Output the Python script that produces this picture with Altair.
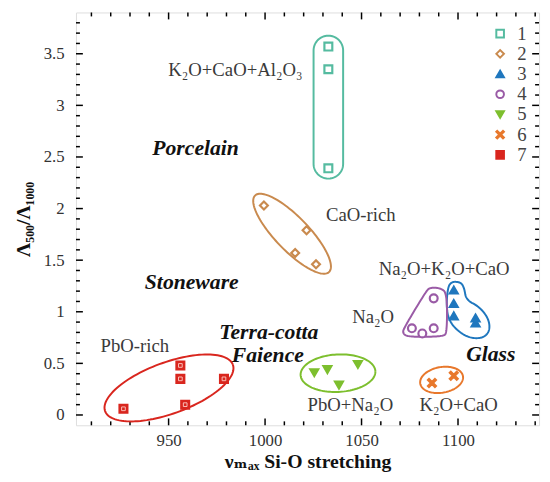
import altair as alt
import pandas as pd
import numpy as np

# ---------------- data ----------------
X_DOMAIN = [902, 1142]
Y_DOMAIN = [-0.1, 3.9]
W, H = 470, 419

series = ["1", "2", "3", "4", "5", "6", "7"]
colors = ["#55bba0", "#c98a4e", "#1f77be", "#9a5ba6", "#7dbf2e", "#e8782c", "#d9261e"]

s1_x = [1032.8, 1032.8, 1032.8]
s1_y = [3.57, 3.35, 2.39]
s2_x = [999.4, 1021.5, 1015.6, 1026.4]
s2_y = [2.03, 1.79, 1.57, 1.46]
s3_x = [1097.8, 1097.8, 1097.8, 1109.1, 1109.1]
s3_y = [1.21, 1.08, 0.96, 0.94, 0.89]
s4_x = [1076.1, 1081.5, 1087.4, 1087.4]
s4_y = [0.84, 0.79, 0.84, 1.13]
s5_x = [1025.5, 1032.3, 1038.3, 1048.1]
s5_y = [0.41, 0.44, 0.29, 0.49]
s6_x = [1086.5, 1097.8]
s6_y = [0.31, 0.38]
s7_x = [926.6, 956.1, 956.1, 958.6, 978.7]
s7_y = [0.06, 0.48, 0.35, 0.10, 0.35]

xs_all = [s1_x, s2_x, s3_x, s4_x, s5_x, s6_x, s7_x]
ys_all = [s1_y, s2_y, s3_y, s4_y, s5_y, s6_y, s7_y]

# tick values
x_major = [950, 1000, 1050, 1100]
x_minor = [910, 920, 930, 940, 960, 970, 980, 990, 1010, 1020, 1030, 1040,
           1060, 1070, 1080, 1090, 1110, 1120, 1130, 1140]
y_major = [0, 0.5, 1, 1.5, 2, 2.5, 3, 3.5]
y_minor = [0.1, 0.2, 0.3, 0.4, 0.6, 0.7, 0.8, 0.9, 1.1, 1.2, 1.3, 1.4, 1.6, 1.7,
           1.8, 1.9, 2.1, 2.2, 2.3, 2.4, 2.6, 2.7, 2.8, 2.9, 3.1, 3.2, 3.3, 3.4,
           3.6, 3.7, 3.8]

# annotations
norm_labels = ["K₂O+CaO+Al₂O₃", "CaO-rich", "Na₂O+K₂O+CaO", "Na₂O", "PbO-rich",
               "PbO+Na₂O", "K₂O+CaO"]
norm_x = [984.6, 1049.6, 1092.8, 1056.0, 932.5, 1044.2, 1100.3]
norm_y = [3.34, 1.94, 1.41, 0.95, 0.67, 0.095, 0.095]
bold_labels = ["Porcelain", "Stoneware", "Terra-cotta", "Faience", "Glass"]
bold_x = [964.0, 962.0, 1001.9, 1001.4, 1117.0]
bold_y = [2.59, 1.29, 0.80, 0.585, 0.59]

# group outlines (ellipses: centre x, centre y, semi-axes in px, angle deg)
teal_stadium = dict(cx=1032.8, ytop=3.675, ybot=2.29, r=15)
brown_ell = dict(cx=1014.0, cy=1.756, a=54, b=17, ang=-46)
green_ell = dict(cx=1037.8, cy=0.405, a=38, b=19, ang=3)
orange_ell = dict(cx=1091.5, cy=0.34, a=22, b=13, ang=10)
red_ell = dict(cx=950.2, cy=0.262, a=69, b=26, ang=20)
purple_px = [1085.5, 1090.9, 1094.3, 1094.3, 1092.4, 1074.6, 1071.2, 1072.2, 1083.5]
purple_py = [1.235, 1.23, 1.18, 0.80, 0.76, 0.755, 0.79, 0.85, 1.20]
blue_px = [1095.8, 1101.2, 1103.2, 1104.2, 1111.0, 1116.0, 1116.5, 1112.5, 1104.7,
           1096.8, 1094.1, 1094.3]
blue_py = [1.29, 1.29, 1.235, 1.115, 1.05, 0.93, 0.81, 0.74, 0.75, 0.865, 1.00, 1.18]

# ---------------- helpers ----------------
PX_X = W / (X_DOMAIN[1] - X_DOMAIN[0])
PX_Y = H / (Y_DOMAIN[1] - Y_DOMAIN[0])


def ellipse(e, n=120):
    t = np.linspace(0, 2 * np.pi, n)
    th = np.radians(e["ang"])
    dx = e["a"] * np.cos(t) * np.cos(th) - e["b"] * np.sin(t) * np.sin(th)
    dy = e["a"] * np.cos(t) * np.sin(th) + e["b"] * np.sin(t) * np.cos(th)
    return e["cx"] + dx / PX_X, e["cy"] + dy / PX_Y


def stadium(s, n=40):
    r = s["r"]
    top_c = s["ytop"] - r / PX_Y
    bot_c = s["ybot"] + r / PX_Y
    t1 = np.linspace(0, np.pi, n)
    t2 = np.linspace(np.pi, 2 * np.pi, n)
    x = np.concatenate([s["cx"] + r * np.cos(t1) / PX_X, s["cx"] + r * np.cos(t2) / PX_X])
    y = np.concatenate([top_c + r * np.sin(t1) / PX_Y, bot_c + r * np.sin(t2) / PX_Y])
    x = np.append(x, x[0])
    y = np.append(y, y[0])
    return x, y


def chaikin(xs, ys, it=4):
    p = np.column_stack([xs, ys]).astype(float)
    for _ in range(it):
        q = np.roll(p, -1, axis=0)
        a = 0.75 * p + 0.25 * q
        b = 0.25 * p + 0.75 * q
        p = np.empty((2 * len(a), 2))
        p[0::2] = a
        p[1::2] = b
    p = np.vstack([p, p[:1]])
    return p[:, 0], p[:, 1]


outlines = [
    (stadium(teal_stadium), colors[0]),
    (ellipse(brown_ell), colors[1]),
    (chaikin(blue_px, blue_py), colors[2]),
    (chaikin(purple_px, purple_py), colors[3]),
    (ellipse(green_ell), colors[4]),
    (ellipse(orange_ell), colors[5]),
    (ellipse(red_ell), colors[6]),
]

xsc = alt.Scale(domain=X_DOMAIN, nice=False, zero=False)
ysc = alt.Scale(domain=Y_DOMAIN, nice=False, zero=False)

SERIF = "'Liberation Serif', 'Times New Roman', Times, 'DejaVu Serif', serif"

# ---------------- points ----------------
rows = []
for s, xs, ys in zip(series, xs_all, ys_all):
    for x, y in zip(xs, ys):
        rows.append({"x": x, "y": y, "s": s})
pts = pd.DataFrame(rows)

X_PATH = "M-0.75,-1L0,-0.25L0.75,-1L1,-0.75L0.25,0L1,0.75L0.75,1L0,0.25L-0.75,1L-1,0.75L-0.25,0L-1,-0.75Z"
shapes = ["square", "diamond", "triangle-up", "circle", "triangle-down", X_PATH, "square"]
fills = ["white", "white", colors[2], "white", colors[4], colors[5], colors[6]]

leg = alt.Legend(orient="none", legendX=421, legendY=12, title=None, padding=0,
                 labelFont=SERIF, labelFontSize=19, labelColor="#444",
                 symbolStrokeWidth=2, symbolSize=60, rowPadding=0.5, labelOffset=8)

points = alt.Chart(pts).mark_point(size=64, strokeWidth=2.2, opacity=1).encode(
    x=alt.X("x:Q", scale=xsc,
            axis=alt.Axis(values=x_major, format="d", ticks=False, domain=False,
                          grid=False, labelFont=SERIF, labelFontSize=17,
                          labelColor="#333", labelPadding=8,
                          title="νₘₐₓ Si-O stretching", titleFont=SERIF,
                          titleFontSize=20, titleFontWeight="bold", titleColor="#111",
                          titlePadding=3)),
    y=alt.Y("y:Q", scale=ysc,
            axis=alt.Axis(values=y_major, format="~g", ticks=False, domain=False,
                          grid=False, labelFont=SERIF, labelFontSize=17,
                          labelColor="#333", labelPadding=12,
                          title="Λ₅₀₀/Λ₁₀₀₀", titleFont=SERIF, titleFontSize=20,
                          titleFontWeight="bold", titleColor="#111", titlePadding=10)),
    shape=alt.Shape("s:N", scale=alt.Scale(domain=series, range=shapes), legend=leg),
    stroke=alt.Stroke("s:N", scale=alt.Scale(domain=series, range=colors), legend=leg),
    fill=alt.Fill("s:N", scale=alt.Scale(domain=series, range=fills), legend=leg),
)

# inner pattern of the red squares
red_df = pd.DataFrame({"x": s7_x, "y": s7_y})
red_inner = alt.Chart(red_df).mark_point(shape="square", size=14, strokeWidth=1,
                                         color="#ffd0c8", opacity=0.9).encode(
    x=alt.X("x:Q", scale=xsc), y=alt.Y("y:Q", scale=ysc))

# ---------------- outlines ----------------
layers = []
for k, ((ox, oy), col) in enumerate(outlines):
    df = pd.DataFrame({"x": ox, "y": oy, "i": np.arange(len(ox))})
    layers.append(alt.Chart(df).mark_line(color=col, strokeWidth=2).encode(
        x=alt.X("x:Q", scale=xsc), y=alt.Y("y:Q", scale=ysc), order="i:Q"))

# ---------------- annotations ----------------
norm_df = pd.DataFrame({"x": norm_x, "y": norm_y, "t": norm_labels})
bold_df = pd.DataFrame({"x": bold_x, "y": bold_y, "t": bold_labels})
norm_text = alt.Chart(norm_df).mark_text(font=SERIF, fontSize=19, color="#3a3a3a",
                                         align="center", baseline="middle").encode(
    x=alt.X("x:Q", scale=xsc), y=alt.Y("y:Q", scale=ysc), text="t:N")
bold_text = alt.Chart(bold_df).mark_text(font=SERIF, fontSize=22, fontWeight="bold",
                                         fontStyle="italic", color="#111",
                                         align="center", baseline="middle").encode(
    x=alt.X("x:Q", scale=xsc), y=alt.Y("y:Q", scale=ysc), text="t:N")

# ---------------- inward ticks ----------------
def xticks(vals, L):
    df = pd.DataFrame({"v": vals})
    b = alt.Chart(df).mark_rule(color="black", strokeWidth=1.5).encode(
        x=alt.X("v:Q", scale=xsc), y=alt.value(H), y2=alt.value(H - L))
    t = alt.Chart(df).mark_rule(color="black", strokeWidth=1.5).encode(
        x=alt.X("v:Q", scale=xsc), y=alt.value(0), y2=alt.value(L))
    return [b, t]


def yticks(vals, L):
    df = pd.DataFrame({"v": vals})
    l = alt.Chart(df).mark_rule(color="black", strokeWidth=1.5).encode(
        y=alt.Y("v:Q", scale=ysc), x=alt.value(0), x2=alt.value(L))
    r = alt.Chart(df).mark_rule(color="black", strokeWidth=1.5).encode(
        y=alt.Y("v:Q", scale=ysc), x=alt.value(W), x2=alt.value(W - L))
    return [l, r]


ticks = xticks(x_major, 7) + xticks(x_minor, 4) + yticks(y_major, 7) + yticks(y_minor, 4)

chart = alt.layer(*ticks, *layers, norm_text, bold_text, points, red_inner).properties(
    width=W, height=H,
    autosize=alt.AutoSizeParams(type="none"),
    padding={"left": 69, "top": 1, "right": 3, "bottom": 54},
).configure_view(stroke="black", strokeWidth=2).configure(background="white")

chart.save("out.html", embed_options={"renderer": "svg", "actions": False})
